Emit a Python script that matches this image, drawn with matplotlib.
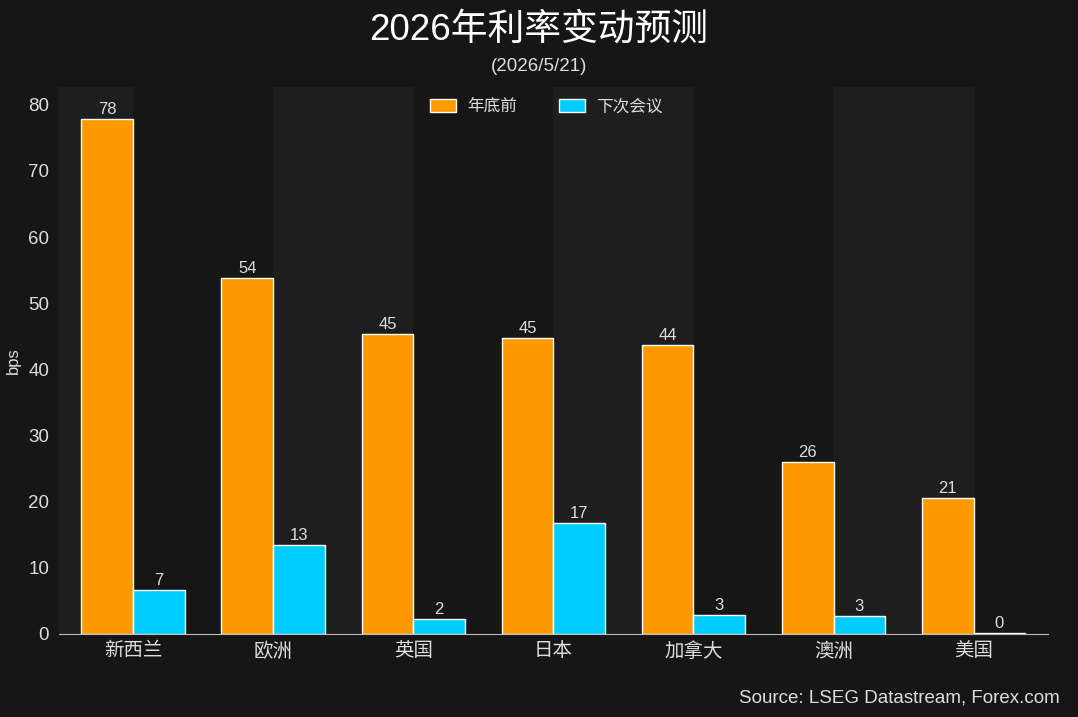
import numpy as np
import matplotlib.pyplot as plt

plt.rcParams['font.family'] = ['Liberation Sans', 'Noto Sans CJK SC', 'DejaVu Sans']

countries = ['新西兰', '欧洲', '英国', '日本', '加拿大', '澳洲', '美国']
year_end = [77.9, 53.8, 45.4, 44.8, 43.7, 26.0, 20.6]
next_meeting = [6.7, 13.4, 2.3, 16.8, 2.9, 2.7, 0.2]
series_names = ['年底前', '下次会议']

bg = '#161616'
band = '#1e1e1e'
txt = '#dddddd'
orange = '#ff9900'
cyan = '#00ccff'

fig = plt.figure(figsize=(10.78, 7.17), dpi=100, facecolor=bg)
ax = fig.add_axes([0.0547, 0.1158, 0.9173, 0.7629], facecolor=bg)

x = np.arange(len(countries))
w = 0.37
lo, hi = -0.53, len(countries) - 1 + 0.53

# alternating background bands
ax.axvspan(lo, 0, color=band, zorder=0, lw=0)
for i in range(1, len(countries) - 1, 2):
    ax.axvspan(i, i + 1, color=band, zorder=0, lw=0)

b1 = ax.bar(x - w / 2, year_end, w, color=orange, edgecolor='white', linewidth=1, label=series_names[0], zorder=2)
b2 = ax.bar(x + w / 2, next_meeting, w, color=cyan, edgecolor='white', linewidth=1, label=series_names[1], zorder=2)

for bars, vals in [(b1, year_end), (b2, next_meeting)]:
    for r, v in zip(bars, vals):
        ax.text(r.get_x() + r.get_width() / 2, v + 0.3, '%d' % round(v),
                ha='center', va='bottom', color=txt, fontsize=12)

ax.set_xlim(lo, hi)
ax.set_ylim(0, 82.7)
ax.set_yticks(range(0, 81, 10))
ax.set_xticks(x)
ax.set_xticklabels(countries)
ax.tick_params(axis='both', length=0, colors=txt, labelsize=13.5)
ax.tick_params(axis='x', labelsize=14, pad=6)
ax.tick_params(axis='y', pad=7)
for s in ['top', 'right', 'left']:
    ax.spines[s].set_visible(False)
ax.spines['bottom'].set_color('#bbbbbb')
ax.set_ylabel('bps', color=txt, fontsize=12, labelpad=5)

leg = ax.legend(loc='upper center', bbox_to_anchor=(0.493, 1.006), ncol=2, frameon=False,
                fontsize=12, handlelength=1.55, handleheight=0.8, handletextpad=0.7,
                columnspacing=2.5)
for t in leg.get_texts():
    t.set_color(txt)

fig.text(0.5, 0.958, '2026年利率变动预测', ha='center', va='center', color='white', fontsize=26.5)
fig.text(0.5, 0.907, '(2026/5/21)', ha='center', va='center', color=txt, fontsize=13.5)
fig.text(0.983, 0.015, 'Source: LSEG Datastream, Forex.com', ha='right', va='bottom', color=txt, fontsize=13.5)

fig.savefig('out.png', dpi=100, facecolor=bg)
